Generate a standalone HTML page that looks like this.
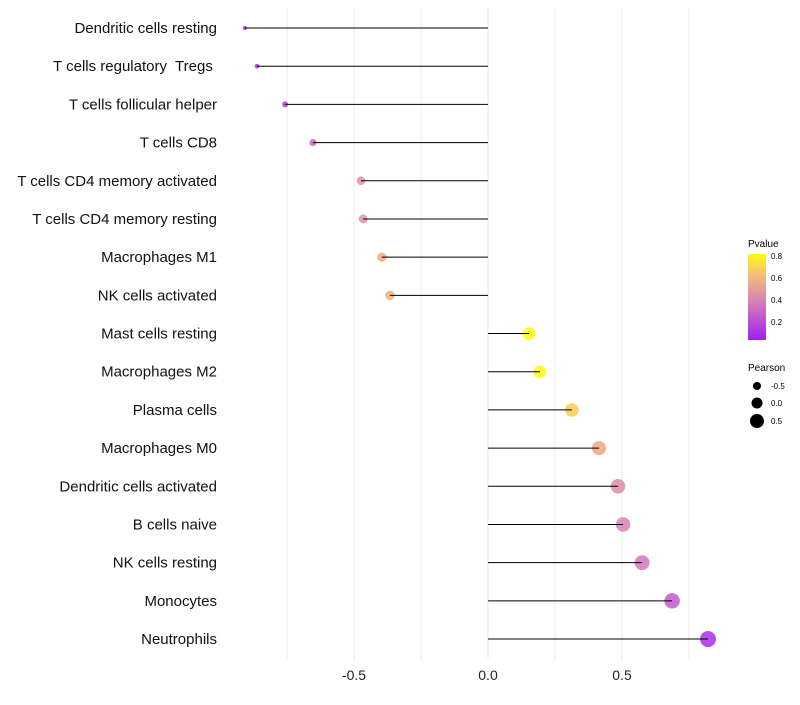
<!DOCTYPE html>
<html><head><meta charset="utf-8"><style>
body{margin:0;background:#fff;font-family:"Liberation Sans",sans-serif}
text{white-space:pre}
</style></head><body>
<svg id="c" width="800" height="700" xmlns="http://www.w3.org/2000/svg">
<defs><linearGradient id="pg" x1="0" y1="1" x2="0" y2="0">
<stop offset="0" stop-color="#a21ff0"/><stop offset="0.45" stop-color="#d780b5"/><stop offset="0.75" stop-color="#f3bd7a"/><stop offset="1" stop-color="#fffa14"/>
</linearGradient></defs>
<g id="grid"></g><g id="dots"></g><g id="marks"></g><g id="labels"></g>
<g font-size="10">
<text x="748" y="247" fill="#000">Pvalue</text>
<rect x="748" y="254" width="18" height="86" fill="url(#pg)"/>
<text x="771" y="259" font-size="8">0.8</text><text x="771" y="281" font-size="8">0.6</text>
<text x="771" y="303" font-size="8">0.4</text><text x="771" y="325" font-size="8">0.2</text>
<text x="748" y="371">Pearson</text>
<circle cx="757" cy="386" r="4" fill="#000"/><text x="771" y="389" font-size="8">-0.5</text>
<circle cx="757" cy="403" r="5.5" fill="#000"/><text x="771" y="406" font-size="8">0.0</text>
<circle cx="757" cy="421" r="7" fill="#000"/><text x="771" y="424" font-size="8">0.5</text>
</g>
</svg>
<script>
const categories=["Dendritic cells resting","T cells regulatory  Tregs ","T cells follicular helper","T cells CD8","T cells CD4 memory activated","T cells CD4 memory resting","Macrophages M1","NK cells activated","Mast cells resting","Macrophages M2","Plasma cells","Macrophages M0","Dendritic cells activated","B cells naive","NK cells resting","Monocytes","Neutrophils"];
const pearson=[-0.907,-0.862,-0.757,-0.653,-0.474,-0.466,-0.396,-0.366,0.153,0.194,0.313,0.414,0.485,0.504,0.575,0.687,0.821];
const pvalue=[0.03,0.06,0.1,0.28,0.45,0.45,0.6,0.62,0.82,0.82,0.7,0.58,0.42,0.38,0.32,0.22,0.06];
const ticks=[-0.5,0,0.5];
const tickLabels=["-0.5","0.0","0.5"];
const minor=[-0.75,-0.25,0.25,0.75];
const NS="http://www.w3.org/2000/svg";
const xs=v=>488+v*268;
const ys=i=>28+i*38.19;
function el(t,a,p){const e=document.createElementNS(NS,t);for(const k in a)e.setAttribute(k,a[k]);document.getElementById(p).appendChild(e);return e;}
function col(p){const st=[[0,[162,31,240]],[0.36,[215,128,181]],[0.62,[243,175,122]],[0.82,[255,250,20]]];
 if(p<=0)return 'rgb(162,31,240)';for(let i=1;i<st.length;i++){if(p<=st[i][0]){const t=(p-st[i-1][0])/(st[i][0]-st[i-1][0]);const a=st[i-1][1],b=st[i][1];return `rgb(${a.map((x,j)=>Math.round(x+(b[j]-x)*t)).join(',')})`;}}return 'rgb(255,250,20)';}
[...ticks,...minor].forEach(v=>{const l=el('line',{x1:xs(v),x2:xs(v),y1:8,y2:660,stroke:'#ebebeb','stroke-width':1},'grid');

});
ticks.forEach((v,i)=>{const t=el('text',{x:xs(v),y:680,'text-anchor':'middle','font-size':14,fill:'#222'},'labels');t.textContent=tickLabels[i];

});
categories.forEach((c,i)=>{const y=ys(i);
const t=el('text',{x:217,y:y+5,'text-anchor':'end','font-size':15,fill:'#111'},'labels');t.textContent=c;


const l=el('line',{x1:xs(0),x2:xs(pearson[i]),y1:y,y2:y,stroke:'#000','stroke-width':1},'marks');


const r=Math.sqrt(4+(pearson[i]+0.907)/1.728*60);
const d=el('circle',{cx:xs(pearson[i]),cy:y,r:r,fill:col(pvalue[i]),'fill-opacity':0.85},'dots');

});
</script>
</body></html>
